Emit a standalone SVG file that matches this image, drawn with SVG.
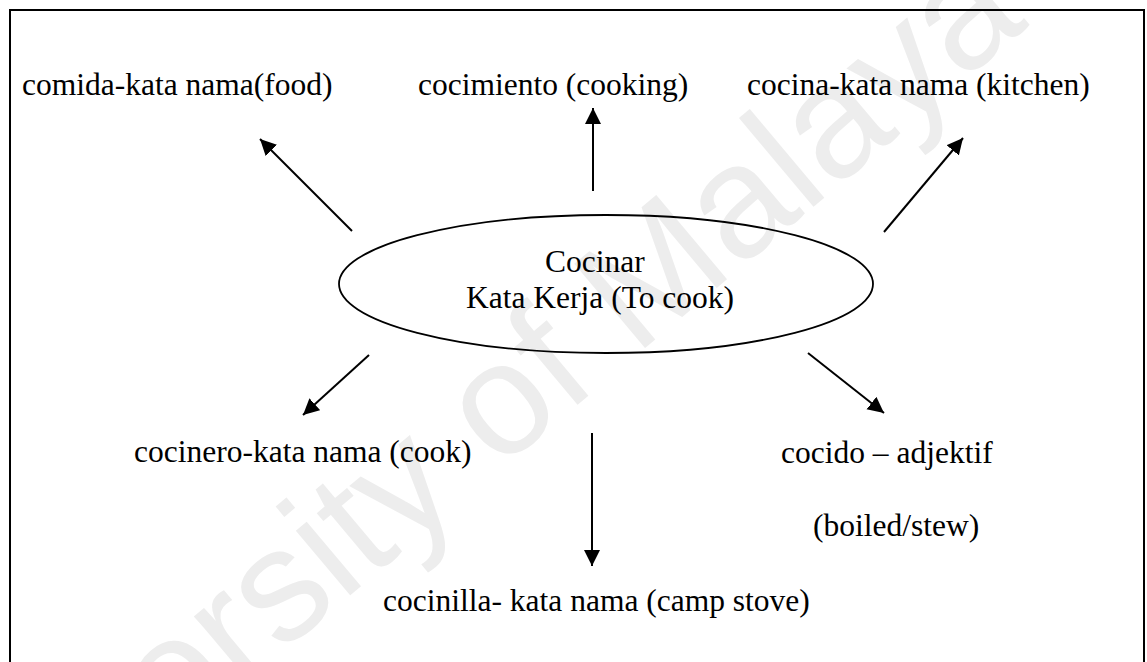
<svg xmlns="http://www.w3.org/2000/svg" width="1147" height="662" viewBox="0 0 1147 662">
  <style>
    .t { font-family: "Liberation Serif", "Times New Roman", serif; font-size: 31.5px; fill: #000; }
    .wm { font-family: "Liberation Sans", Arial, sans-serif; font-size: 160px; fill: #ededed; }
    .conn { stroke: #000; stroke-width: 2; fill: none; marker-end: url(#arrow); }
  </style>
  <defs>
    <marker id="arrow" markerUnits="userSpaceOnUse" markerWidth="17" markerHeight="17" refX="16" refY="8" orient="auto">
      <path d="M0,0 L16,8 L0,16 Z" fill="#000"/>
    </marker>
  </defs>
  <rect x="0" y="0" width="1147" height="662" fill="#fff"/>
  <text class="wm" transform="translate(1030,25) rotate(-40)" text-anchor="end">University of Malaya</text>
  <rect x="10" y="10" width="1134" height="700" fill="none" stroke="#000" stroke-width="2"/>

  <g id="center">
    <ellipse cx="606" cy="284" rx="267" ry="69" fill="none" stroke="#000" stroke-width="1.8"/>
    <text class="t" x="545" y="272">Cocinar</text>
    <text class="t" x="466" y="308">Kata Kerja (To cook)</text>
  </g>
  <g id="comida"><text class="t" x="22" y="95">comida-kata nama(food)</text></g>
  <g id="cocimiento"><text class="t" x="418" y="95">cocimiento (cooking)</text></g>
  <g id="cocina"><text class="t" x="747" y="95">cocina-kata nama (kitchen)</text></g>
  <g id="cocinero"><text class="t" x="134" y="462">cocinero-kata nama (cook)</text></g>
  <g id="cocido">
    <text class="t" x="781" y="463">cocido – adjektif</text>
    <text class="t" x="813" y="536">(boiled/stew)</text>
  </g>
  <g id="cocinilla"><text class="t" x="383" y="611">cocinilla- kata nama (camp stove)</text></g>

  <g id="connectors">
    <line class="conn" x1="352" y1="231" x2="260" y2="139"/>
    <line class="conn" x1="593" y1="191" x2="593" y2="108"/>
    <line class="conn" x1="884" y1="232" x2="963" y2="138"/>
    <line class="conn" x1="369" y1="355" x2="303" y2="415"/>
    <line class="conn" x1="808" y1="353" x2="884" y2="413"/>
    <line class="conn" x1="592" y1="433" x2="592" y2="566"/>
  </g>
</svg>
